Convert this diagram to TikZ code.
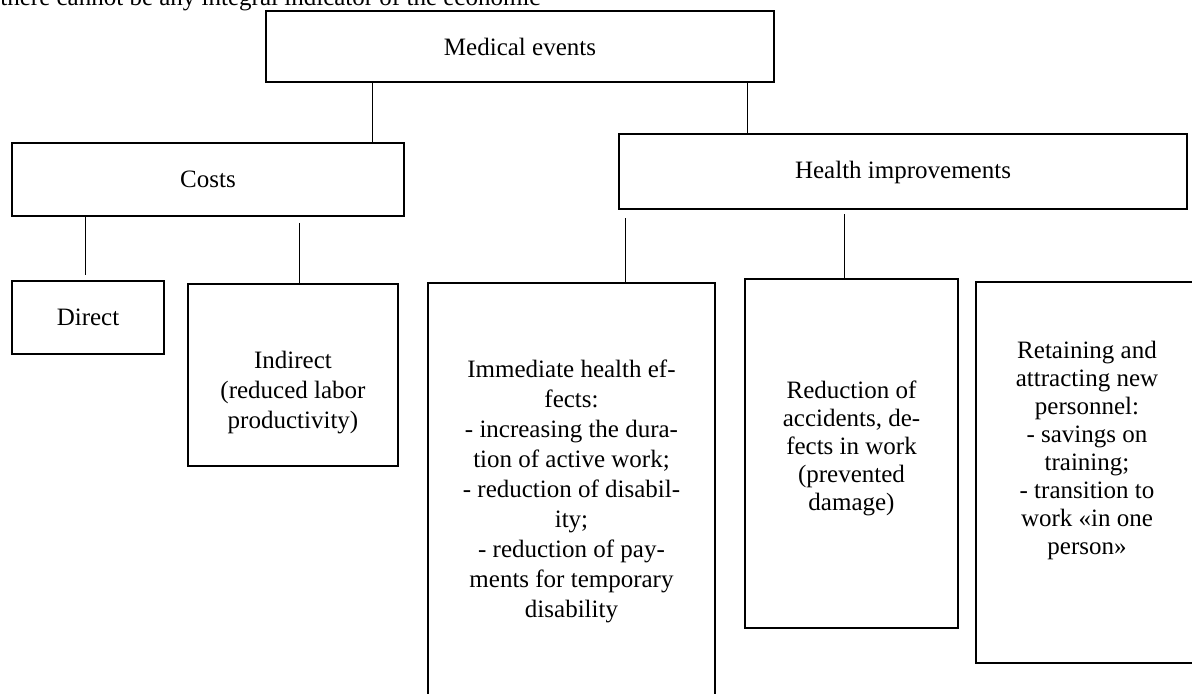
\documentclass[tikz,border=0pt]{standalone}
\usepackage{fontspec}
\setmainfont{Liberation Serif}
\tikzset{
	box/.style={draw,rectangle,line width=1pt,inner sep=0pt,align=center},
	boxtext/.style={align=center,inner sep=0pt},
	tight/.style={font=\fontsize{12.5}{14}\selectfont},
	link/.style={-,line width=0.5pt}
}
\begin{document}
\begin{tikzpicture}[x=0.5pt,y=-0.5pt,font=\fontsize{12.5}{15}\selectfont]
			\useasboundingbox (0,0) rectangle (1192,694);
			\node[anchor=base west,inner sep=0pt] (intro) at (0,6){there cannot be any integral indicator of the economic};
			\node[box,minimum width=254pt,minimum height=35.5pt] (med) at (520,46.5){Medical events};
			\node[box,minimum width=196pt,minimum height=36.5pt] (costs) at (208,179.5){Costs};
			\node[box,minimum width=284pt,minimum height=37.5pt] (health) at (903,172){Health improvements};
			\node[box,minimum width=76pt,minimum height=36.5pt] (direct) at (88,317.5){Direct};
			\node[box,minimum width=105pt,minimum height=91pt] (indirect) at (293,375){};
			\node[boxtext] (indirecttext) at ([yshift=-9pt]indirect.center){Indirect\\(reduced labor\\productivity)};
			\node[box,minimum width=143.5pt,minimum height=208.5pt] (immed) at (571.5,491.5){Immediate health ef-\\fects:\\- increasing the dura-\\tion of active work;\\- reduction of disabil-\\ity;\\- reduction of pay-\\ments for temporary\\disability};
			\node[box,minimum width=106.5pt,minimum height=174.5pt] (reduct) at (851.5,453.5){};
			\node[boxtext,tight] (reducttext) at ([yshift=2.75pt]reduct.center){Reduction of\\accidents, de-\\fects in work\\(prevented\\damage)};
			\node[box,minimum width=111pt,minimum height=190.5pt] (retain) at (1087,472.5){};
			\node[boxtext,tight] (retaintext) at ([yshift=11pt]retain.center){Retaining and\\attracting new\\personnel:\\- savings on\\training;\\- transition to\\work «in one\\person»};
			\draw ([xshift=-74pt]med.south) edge [link] ([xshift=82pt]costs.north);
			\draw ([xshift=113.5pt]med.south) edge [link] ([xshift=-78pt]health.north);
			\draw ([xshift=-61.5pt]costs.south) edge [link,shorten >=2.5pt] ([xshift=-1.5pt]direct.north);
			\draw ([xshift=45.5pt]costs.south) edge [link,shorten <=3pt] ([xshift=3pt]indirect.north);
			\draw ([xshift=-139pt]health.south) edge [link,shorten <=4pt] ([xshift=26.75pt]immed.north);
			\draw ([xshift=-29.5pt]health.south) edge [link,shorten <=2pt] ([xshift=-3.75pt]reduct.north);
		\end{tikzpicture}
\end{document}
